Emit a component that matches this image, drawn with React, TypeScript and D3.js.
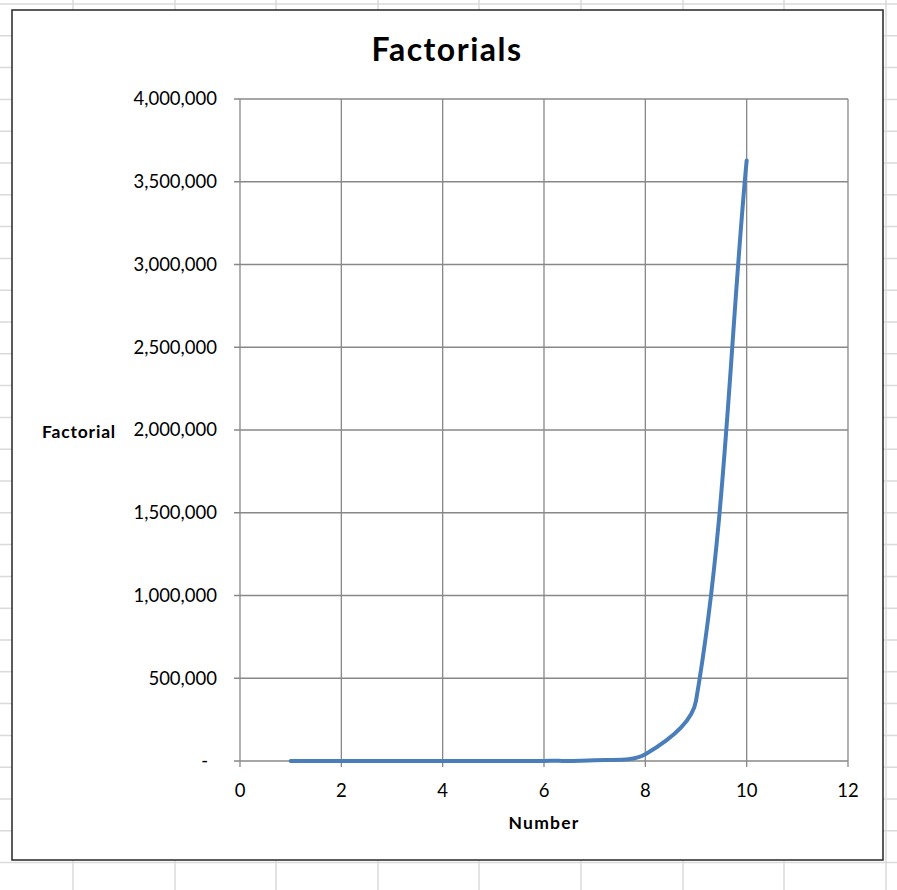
import React, { useEffect, useRef } from "react";
import * as d3 from "d3";

const numbers = [1, 2, 3, 4, 5, 6, 7, 8, 9, 10];
const factorials = [1, 2, 6, 24, 120, 720, 5040, 40320, 362880, 3628800];
const xTicks = [0, 2, 4, 6, 8, 10, 12];
const yTicks = [0, 500000, 1000000, 1500000, 2000000, 2500000, 3000000, 3500000, 4000000];
const sheetCols = [73, 175, 276, 378, 479, 581, 683, 784, 886];

const W = 897;
const H = 890;
const FONT = "Lato, 'Open Sans', sans-serif";

// Excel-like smoothed path (Bezier with length-weighted tangents) in screen space
function smoothPath(pts: [number, number][]) {
  const p = d3.path();
  const n = pts.length;
  const dist = (a: [number, number], b: [number, number]) => Math.hypot(b[0] - a[0], b[1] - a[1]);
  p.moveTo(pts[0][0], pts[0][1]);
  for (let i = 0; i < n - 1; i++) {
    const p0 = pts[Math.max(0, i - 1)];
    const p1 = pts[i];
    const p2 = pts[i + 1];
    const p3 = pts[Math.min(n - 1, i + 2)];
    const l01 = dist(p0, p1), l12 = dist(p1, p2), l23 = dist(p2, p3);
    const s1 = l01 + l12 > 0 ? l12 / (l01 + l12) / 1.5 : 0;
    const s2 = l12 + l23 > 0 ? l12 / (l12 + l23) / 1.5 : 0;
    const c1x = p1[0] + (p2[0] - p0[0]) * s1 * 0.5;
    const c1y = p1[1] + (p2[1] - p0[1]) * s1 * 0.5;
    const c2x = p2[0] - (p3[0] - p1[0]) * s2 * 0.5;
    const c2y = p2[1] - (p3[1] - p1[1]) * s2 * 0.5;
    p.bezierCurveTo(c1x, c1y, c2x, c2y, p2[0], p2[1]);
  }
  return p.toString();
}

export default function App() {
  const ref = useRef<SVGSVGElement>(null);
  useEffect(() => {
    const svg = d3.select(ref.current);
    svg.selectAll("*").remove();

    const bg = svg.append("g");
    bg.append("rect").attr("width", W).attr("height", H).attr("fill", "#fff");
    const rows = d3.range(0, 28).map((k) => 4 + k * 31.8);
    bg.selectAll("line.r").data(rows).enter().append("line")
      .attr("x1", 0).attr("x2", W).attr("y1", (d) => d).attr("y2", (d) => d)
      .attr("stroke", "#dadada").attr("stroke-width", 1.5);
    bg.selectAll("line.c").data(sheetCols).enter().append("line")
      .attr("y1", 0).attr("y2", H).attr("x1", (d) => d).attr("x2", (d) => d)
      .attr("stroke", "#dadada").attr("stroke-width", 1.5);

    svg.append("rect").attr("x", 12).attr("y", 10).attr("width", 871).attr("height", 850)
      .attr("fill", "#fff").attr("stroke", "#262626").attr("stroke-width", 1.5);

    const x = d3.scaleLinear().domain([0, 12]).range([240, 848]);
    const y = d3.scaleLinear().domain([0, 4000000]).range([761, 99]);

    const g = svg.append("g");
    g.selectAll("line.gy").data(yTicks).enter().append("line")
      .attr("x1", x(0) - 6).attr("x2", x(12)).attr("y1", (d) => y(d)).attr("y2", (d) => y(d))
      .attr("stroke", "#888").attr("stroke-width", 1.3);
    g.selectAll("line.gx").data(xTicks).enter().append("line")
      .attr("y1", y(4000000)).attr("y2", y(0) + 6).attr("x1", (d) => x(d)).attr("x2", (d) => x(d))
      .attr("stroke", "#888").attr("stroke-width", 1.3);

    const fmt = d3.format(",");
    g.selectAll("text.yt").data(yTicks).enter().append("text")
      .attr("x", (d) => (d === 0 ? 208 : 217)).attr("y", (d) => y(d)).attr("dy", "0.35em")
      .attr("text-anchor", "end").attr("font-family", FONT).attr("font-size", 18.5).attr("fill", "#000")
      .text((d) => (d === 0 ? "-" : fmt(d)));
    g.selectAll("text.xt").data(xTicks).enter().append("text")
      .attr("x", (d) => x(d)).attr("y", 791).attr("dy", "0.35em")
      .attr("text-anchor", "middle").attr("font-family", FONT).attr("font-size", 18.5).attr("fill", "#000")
      .text((d) => String(d));

    const pts = numbers.map((n, i) => [x(n), y(factorials[i])] as [number, number]);
    g.append("path").attr("d", smoothPath(pts)).attr("fill", "none")
      .attr("stroke", "#4a7ebb").attr("stroke-width", 4).attr("stroke-linecap", "round")
      .attr("stroke-linejoin", "round");

    svg.append("text").attr("x", 447).attr("y", 50).attr("dy", "0.35em").attr("text-anchor", "middle")
      .attr("font-family", FONT).attr("font-weight", "bold").attr("font-size", 32)
      .attr("letter-spacing", 1.5).text("Factorials");
    svg.append("text").attr("x", 544).attr("y", 823).attr("dy", "0.35em").attr("text-anchor", "middle")
      .attr("font-family", FONT).attr("font-weight", "bold").attr("font-size", 17.5)
      .attr("letter-spacing", 1.2).text("Number");
    svg.append("text").attr("x", 79).attr("y", 432).attr("dy", "0.35em").attr("text-anchor", "middle")
      .attr("font-family", FONT).attr("font-weight", "bold").attr("font-size", 17.5)
      .attr("letter-spacing", 0.8).text("Factorial");
  }, []);
  return (
    <svg ref={ref} width={W} height={H}
      style={{ position: "absolute", left: 0, top: 0, display: "block" }} />
  );
}
